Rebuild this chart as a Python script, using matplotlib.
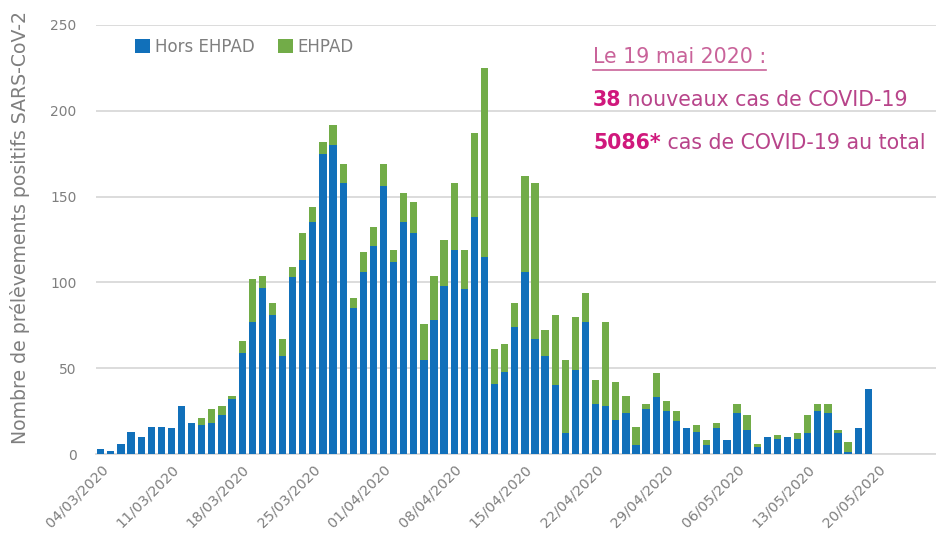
import numpy as np
import pandas as pd
import matplotlib
matplotlib.use("Agg")
import matplotlib.pyplot as plt
from matplotlib.lines import Line2D

# daily positive samples, 04/03/2020 -> 19/05/2020
dates = pd.date_range("2020-03-04", "2020-05-19", freq="D")
hors_ehpad = [3, 2, 6, 13, 10, 16, 16, 15, 28, 18,
              17, 18, 23, 32, 59, 77, 97, 81, 57, 103,
              113, 135, 175, 180, 158, 85, 106, 121, 156, 112,
              135, 129, 55, 78, 98, 119, 96, 138, 115, 41,
              48, 74, 106, 67, 57, 40, 12, 49, 77, 29,
              28, 20, 24, 5, 26, 33, 25, 19, 15, 13,
              5, 15, 8, 24, 14, 4, 10, 9, 10, 9,
              12, 25, 24, 12, 1, 15, 38]
ehpad = [0, 0, 0, 0, 0, 0, 0, 0, 0, 0,
         4, 8, 5, 2, 7, 25, 7, 7, 10, 6,
         16, 9, 7, 12, 11, 6, 12, 11, 13, 7,
         17, 18, 21, 26, 27, 39, 23, 49, 110, 20,
         16, 14, 56, 91, 15, 41, 43, 31, 17, 14,
         49, 22, 10, 11, 3, 14, 6, 6, 0, 4,
         3, 3, 0, 5, 9, 2, 0, 2, 0, 3,
         11, 4, 5, 2, 6, 0, 0]
tick_every = 7
ytick_vals = [0, 50, 100, 150, 200, 250]

blue = "#1170BA"
green = "#72AC48"
grey = "#7F7F7F"

fig = plt.figure(figsize=(9.37, 5.36), dpi=100)
ax = fig.add_axes([96 / 937, 82 / 536, 841 / 937, 429 / 536])

x = np.arange(len(dates))
ax.bar(x, hors_ehpad, width=0.72, color=blue, label="Hors EHPAD", zorder=3)
ax.bar(x, ehpad, width=0.72, bottom=hors_ehpad, color=green, label="EHPAD", zorder=3)

ax.set_xlim(-0.47, 82.8)
ax.set_ylim(0, 250)
ax.set_yticks(ytick_vals)
ax.set_yticklabels([str(v) for v in ytick_vals], fontsize=10, color=grey)
ax.yaxis.grid(True, color="#D9D9D9", linewidth=1.3, zorder=0)
ax.set_axisbelow(True)

tick_pos = np.arange(0, len(dates) + 1, tick_every)
tick_lab = [(dates[0] + pd.Timedelta(days=int(p))).strftime("%d/%m/%Y") for p in tick_pos]
ax.set_xticks(tick_pos)
ax.set_xticklabels(tick_lab, rotation=45, ha="right", rotation_mode="anchor",
                   fontsize=10.3, color=grey)
ax.tick_params(axis="x", length=0, pad=6)
ax.tick_params(axis="y", length=0, pad=14)

for s in ["top", "right", "left"]:
    ax.spines[s].set_visible(False)
ax.spines["bottom"].set_color("#D9D9D9")
ax.spines["bottom"].set_linewidth(1.3)

fig.text(20 / 937, 1 - 228 / 536, "Nombre de prélèvements positifs SARS-CoV-2",
         fontsize=13.6, color=grey, rotation=90, ha="center", va="center")

leg = ax.legend(loc="upper left", bbox_to_anchor=(0.028, 1.005), ncol=2, frameon=False,
                fontsize=12, handlelength=0.9, handleheight=0.9, handletextpad=0.3,
                columnspacing=1.4)
for t in leg.get_texts():
    t.set_color(grey)

# annotation box, top right
pink = "#C9639A"
magenta = "#D0187C"
purple = "#B8448A"
fs = 14.8
fig.canvas.draw()
r = fig.canvas.get_renderer()

t1 = fig.text(593 / 937, 1 - 57 / 536, "Le 19 mai 2020 :", fontsize=fs, color=pink, va="center")
bb = t1.get_window_extent(r)
fig.add_artist(Line2D([bb.x0 / 937, bb.x1 / 937], [(bb.y0 - 3) / 536] * 2, color=pink, linewidth=1.2))

lines = [("38", " nouveaux cas de COVID-19", 100), ("5086*", " cas de COVID-19 au total", 143)]
for bold, rest, ypix in lines:
    tb = fig.text(593 / 937, 1 - ypix / 536, bold, fontsize=fs, color=magenta,
                  fontweight="bold", va="center")
    bb = tb.get_window_extent(r)
    fig.text(bb.x1 / 937, 1 - ypix / 536, rest, fontsize=fs, color=purple, va="center")

fig.savefig("out.png", dpi=100)
